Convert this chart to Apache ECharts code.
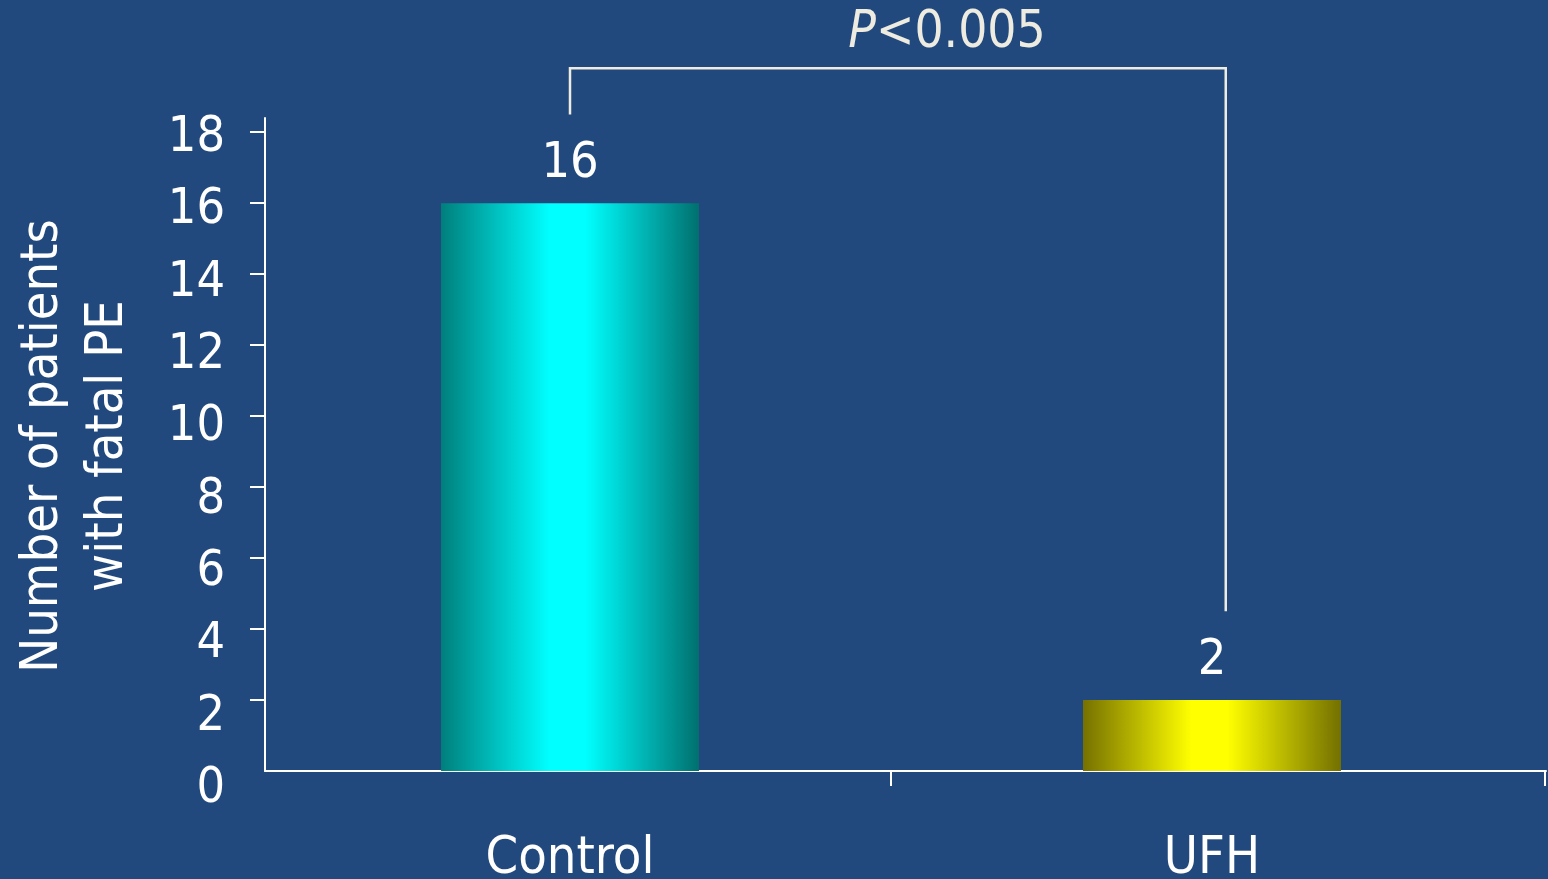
<!DOCTYPE html>
<html>
<head>
<meta charset="utf-8">
<script src="https://cdn.jsdelivr.net/npm/echarts@6/dist/echarts.min.js"></script>
<style>
  html, body { margin: 0; padding: 0; background: #21497D; }
  #chart { width: 1548px; height: 879px; }
</style>
</head>
<body>
<div id="chart"></div>
<script>
// Fatal pulmonary embolism counts by treatment group
const categories = ['Control', 'UFH'];
const patients = [16, 2];
const yTicks = [0, 2, 4, 6, 8, 10, 12, 14, 16, 18];
const yTitle = ['Number of patients', 'with fatal PE'];
const pLabel = ['P', '<0.005'];
// significance bracket: top bar value and the two leg ends (y values)
const bracketTop = 19.8;
const bracketLegs = [18.5, 4.5];

const FONT = '"DejaVu Sans Condensed", "DejaVu Sans", sans-serif';
const Y_MAX = 18.4;
const WHITE = '#FFFFFF';
const CREAM = '#EEECE1';

function barGradient(left, mid, right) {
  return new echarts.graphic.LinearGradient(0, 0, 1, 0, [
    { offset: 0, color: left },
    { offset: 0.42, color: mid },
    { offset: 0.56, color: mid },
    { offset: 1, color: right }
  ]);
}
const barFills = [
  barGradient('#007F7C', '#00FFFF', '#00706E'),
  barGradient('#767100', '#FFFF00', '#737000')
];

const chart = echarts.init(document.getElementById('chart'), null, { renderer: 'canvas' });

const gridBase = { outerBoundsMode: 'none', containLabel: false };

chart.setOption({
  backgroundColor: '#21497D',
  animation: false,
  grid: [
    Object.assign({ left: 249, right: 15, top: 118, bottom: 108 }, gridBase),  // bars
    Object.assign({ left: 265, right: 2, top: 118, bottom: 108 }, gridBase),   // axis frame
    Object.assign({ left: 265, right: 2, top: 138, bottom: 90 }, gridBase)     // y tick labels
  ],
  xAxis: [
    {
      gridIndex: 0, type: 'category', data: categories,
      axisLine: { show: false }, axisTick: { show: false },
      axisLabel: { color: WHITE, fontSize: 52, fontFamily: FONT, margin: 62 }
    },
    {
      gridIndex: 1, type: 'value', min: 0, max: 1,
      axisLine: { show: true, onZero: false, lineStyle: { color: WHITE, width: 2 } },
      axisTick: { show: false }, axisLabel: { show: false }, splitLine: { show: false }
    },
    { gridIndex: 2, type: 'value', min: 0, max: 1, show: false }
  ],
  yAxis: [
    { gridIndex: 0, type: 'value', min: 0, max: Y_MAX, show: false },
    {
      gridIndex: 1, type: 'value', min: 0, max: Y_MAX,
      axisLine: { show: true, lineStyle: { color: WHITE, width: 2 } },
      axisTick: {
        show: true, length: 15, customValues: yTicks.filter(v => v > 0),
        lineStyle: { color: WHITE, width: 2 }
      },
      axisLabel: { show: false }, splitLine: { show: false }
    },
    {
      gridIndex: 2, type: 'value', min: 0, max: 18, interval: 2,
      axisLine: { show: false }, axisTick: { show: false }, splitLine: { show: false },
      axisLabel: { color: WHITE, fontSize: 50, fontFamily: FONT, margin: 40 }
    }
  ],
  series: [{
    type: 'bar',
    xAxisIndex: 0, yAxisIndex: 0,
    barWidth: 258,
    data: patients.map((v, i) => ({ value: v, itemStyle: { color: barFills[i] } })),
    label: {
      show: true, position: 'top', distance: 14,
      color: WHITE, fontSize: 50, fontFamily: FONT
    }
  }]
});

// bracket, category-boundary ticks and titles placed from the axis scales
const pt = (cat, val) => chart.convertToPixel({ xAxisIndex: 0, yAxisIndex: 0 }, [cat, val]);
const leftTop = pt(0, bracketTop);
const leftLeg = pt(0, bracketLegs[0]);
const base = pt(0, 0);
const rightY = pt(1, bracketLegs[1])[1];
// right leg sits at the centre of the second half of the axis frame
const rightX = chart.convertToPixel({ xAxisIndex: 1 }, 0.75);
const midX = (leftTop[0] + pt(1, 0)[0]) / 2;
const frameEnd = chart.convertToPixel({ xAxisIndex: 1 }, 1);

chart.setOption({
  graphic: [
    {
      type: 'polyline', silent: true,
      shape: { points: [leftLeg, leftTop, [rightX, leftTop[1]], [rightX, rightY]] },
      style: { stroke: CREAM, lineWidth: 2.5, fill: null }
    },
    {
      type: 'line', silent: true,
      shape: { x1: midX, y1: base[1], x2: midX, y2: base[1] + 15 },
      style: { stroke: WHITE, lineWidth: 2 }
    },
    {
      type: 'line', silent: true,
      shape: { x1: frameEnd - 1, y1: base[1], x2: frameEnd - 1, y2: base[1] + 15 },
      style: { stroke: WHITE, lineWidth: 2 }
    },
    {
      type: 'text', silent: true,
      x: 947, y: 34,
      style: {
        text: '{i|' + pLabel[0] + '}{n|' + pLabel[1] + '}',
        align: 'center', verticalAlign: 'middle',
        rich: {
          i: { fontSize: 51, fontStyle: 'italic', fontFamily: FONT, fill: CREAM },
          n: { fontSize: 51, fontFamily: FONT, fill: CREAM }
        }
      }
    },
    {
      type: 'text', silent: true,
      x: 76, y: 446, rotation: Math.PI / 2,
      style: {
        text: yTitle.join('\n'),
        align: 'center', verticalAlign: 'middle',
        fontSize: 52, lineHeight: 65, fontFamily: FONT, fill: WHITE
      }
    }
  ]
});
</script>
</body>
</html>
